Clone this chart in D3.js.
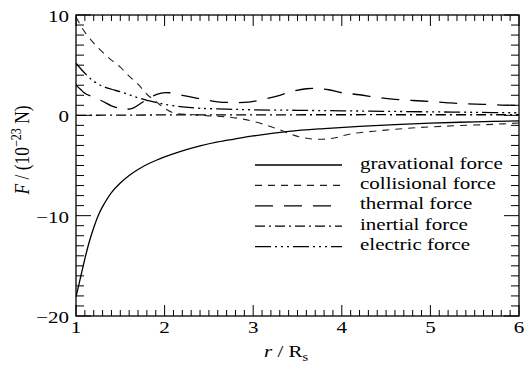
<!DOCTYPE html>
<html>
<head>
<meta charset="utf-8">
<script src="https://cdn.jsdelivr.net/npm/d3@7/dist/d3.min.js"></script>
<style>
	body { margin: 0; background: #fff; }
	.frame { fill: none; stroke: #000; stroke-width: 1.3; }
	.tick { stroke: #000; stroke-width: 1; }
	.curve { fill: none; stroke: #000; stroke-width: 1.3; }
</style>
</head>
<body>
<div id="chart"></div>
<script>

var gravR = [1, 1.05, 1.1, 1.15, 1.2, 1.25, 1.3, 1.4, 1.5, 1.6, 1.7, 1.8, 1.9, 2.0, 2.2, 2.4, 2.6, 2.8, 3.0, 3.4, 3.8, 4.2, 4.6, 5.0, 5.5, 6.0];
var gravF = [-18.1, -16.2, -14.3, -12.6, -11.2, -10.0, -9.1, -7.7, -6.75, -6.0, -5.4, -4.9, -4.5, -4.15, -3.55, -3.05, -2.65, -2.35, -2.05, -1.6, -1.32, -1.1, -0.92, -0.78, -0.65, -0.55];

var collR = [1, 1.05, 1.1, 1.2, 1.3, 1.4, 1.5, 1.6, 1.7, 1.8, 1.9, 2.0, 2.1, 2.3, 2.5, 2.7, 2.9, 3.1, 3.3, 3.5, 3.7, 3.9, 4.1, 4.5, 4.9, 5.3, 5.7, 6.0];
var collF = [9.8, 9.0, 8.3, 7.2, 6.3, 5.5, 4.8, 3.9, 3.1, 2.1, 1.4, 0.7, 0.25, 0.08, -0.05, -0.15, -0.4, -0.85, -1.45, -2.1, -2.38, -2.28, -1.85, -1.47, -1.2, -1.03, -0.9, -0.77];

var thermR = [1, 1.05, 1.1, 1.2, 1.3, 1.4, 1.5, 1.57, 1.65, 1.75, 1.85, 1.95, 2.05, 2.2, 2.4, 2.6, 2.8, 2.95, 3.15, 3.3, 3.45, 3.6, 3.7, 3.85, 4.0, 4.2, 4.4, 4.6, 4.8, 5.0, 5.2, 5.4, 5.6, 5.8, 6.0];
var thermF = [3.0, 2.6, 2.2, 1.8, 1.4, 0.95, 0.68, 0.6, 0.75, 1.3, 1.85, 2.2, 2.25, 2.0, 1.65, 1.35, 1.27, 1.32, 1.66, 2.0, 2.4, 2.65, 2.68, 2.55, 2.25, 2.05, 1.78, 1.6, 1.48, 1.38, 1.25, 1.15, 1.1, 1.02, 1.0];

var inerR = [1, 1.5, 2, 3, 4, 5, 6];
var inerF = [0, 0.02, 0.04, 0.05, 0.06, 0.06, 0.06];

var elecR = [1, 1.1, 1.2, 1.3, 1.4, 1.5, 1.6, 1.7, 1.8, 1.9, 2.0, 2.2, 2.4, 2.7, 3.0, 3.5, 4.0, 4.5, 5.0, 5.5, 6.0];
var elecF = [5.2, 4.2, 3.4, 2.9, 2.6, 2.35, 2.05, 1.75, 1.5, 1.3, 1.1, 0.85, 0.7, 0.62, 0.55, 0.5, 0.45, 0.4, 0.35, 0.3, 0.25];

var seriesNames = ['gravational force', 'collisional force', 'thermal force', 'inertial force', 'electric force'];
var xTicks = [1, 2, 3, 4, 5, 6];
var yTicks = [-20, -10, 0, 10];

var FONT = "'Liberation Serif'";
var STRETCH = 1.2; // the original figure is a bit wider than tall

function label(svg, x, y, size, anchor) {
	return svg.append('text')
		.attr('transform', 'translate(' + x + ',' + y + ') scale(' + STRETCH + ',1)')
		.attr('text-anchor', anchor || 'start')
		.style('font-family', FONT)
		.style('font-size', size + 'px');
}

function chart(element, width, height) {

	var margin = { left: 76, right: 8, top: 15, bottom: 50 };
	var svg = d3.select(element).append('svg').attr('width', width).attr('height', height);

	var x = d3.scaleLinear().domain([1, 6]).range([margin.left, width - margin.right]);
	var y = d3.scaleLinear().domain([-20, 10]).range([height - margin.bottom, margin.top]);

	var x0 = x.range()[0], x1 = x.range()[1];
	var y0 = y.range()[0], y1 = y.range()[1];

	svg.append('clipPath').attr('id', 'clip').append('rect')
		.attr('x', x0).attr('y', y1).attr('width', x1 - x0).attr('height', y0 - y1);

	var series = [
		{ r: gravR, f: gravF, dash: null, color: '#000', w: 1.3 },
		{ r: collR, f: collF, dash: '7,6', color: '#222', w: 1.1 },
		{ r: thermR, f: thermF, dash: '18,11', color: '#000', w: 1.3 },
		{ r: inerR, f: inerF, dash: '10,4,2,4', color: '#000', w: 1.3 },
		{ r: elecR, f: elecF, dash: '16,4,2,4,2,4,2,4', color: '#000', w: 1.3 }
	];

	var line = d3.line().curve(d3.curveCatmullRom.alpha(0.5))
		.x(function(d) { return x(d[0]); })
		.y(function(d) { return y(d[1]); });

	var g = svg.append('g').attr('clip-path', 'url(#clip)');

	series.forEach(function(s) {
		var pts = s.r.map(function(r, i) { return [r, s.f[i]]; });
		g.append('path').attr('class', 'curve').attr('d', line(pts))
			.style('stroke', s.color).style('stroke-width', s.w)
			.style('stroke-dasharray', s.dash);
	});

	// ticks, mirrored on all four sides
	var minorX = d3.range(10, 61).map(function(d) { return d / 10; });
	var minorY = d3.range(-20, 11);

	minorX.forEach(function(v) {
		var major = xTicks.indexOf(v) !== -1;
		var len = major ? 11 : 6;
		svg.append('line').attr('class', 'tick').attr('x1', x(v)).attr('x2', x(v)).attr('y1', y0).attr('y2', y0 - len);
		svg.append('line').attr('class', 'tick').attr('x1', x(v)).attr('x2', x(v)).attr('y1', y1).attr('y2', y1 + len);
	});

	minorY.forEach(function(v) {
		var major = yTicks.indexOf(v) !== -1;
		var len = major ? 15 : 8;
		svg.append('line').attr('class', 'tick').attr('x1', x0).attr('x2', x0 + len).attr('y1', y(v)).attr('y2', y(v));
		svg.append('line').attr('class', 'tick').attr('x1', x1).attr('x2', x1 - len).attr('y1', y(v)).attr('y2', y(v));
	});

	svg.append('rect').attr('class', 'frame')
		.attr('x', x0).attr('y', y1).attr('width', x1 - x0).attr('height', y0 - y1);

	xTicks.forEach(function(d) {
		label(svg, x(d), y0 + 17, 17.5, 'middle').text(d);
	});

	yTicks.forEach(function(d) {
		label(svg, x0 - 7, y(d) + 7, 17.5, 'end').text(d < 0 ? '\u2212' + Math.abs(d) : d);
	});

	var xt = label(svg, 286, 357, 17.5, 'middle');
	xt.append('tspan').style('font-style', 'italic').text('r');
	xt.append('tspan').text(' / R');
	xt.append('tspan').attr('dy', 4).style('font-size', '12px').text('s');

	var yt = svg.append('text')
		.attr('transform', 'translate(29,150) rotate(-90) scale(1,' + STRETCH + ')')
		.attr('text-anchor', 'middle')
		.style('font-family', FONT)
		.style('font-size', '17.5px');
	yt.append('tspan').style('font-style', 'italic').text('F');
	yt.append('tspan').text(' / (10');
	yt.append('tspan').attr('dy', -7).style('font-size', '12px').text('\u221223');
	yt.append('tspan').attr('dy', 7).text(' N)');

	// legend
	series.forEach(function(s, i) {
		var ly = 165 + i * 20.4;
		svg.append('line').attr('class', 'curve')
			.attr('x1', 255).attr('x2', 342).attr('y1', ly).attr('y2', ly)
			.style('stroke', s.color).style('stroke-width', s.w)
			.style('stroke-dasharray', s.dash);
		label(svg, 360, ly + 3.5, 17.5).text(seriesNames[i]);
	});
}

chart(document.getElementById('chart'), 527, 366);

</script>
</body>
</html>
